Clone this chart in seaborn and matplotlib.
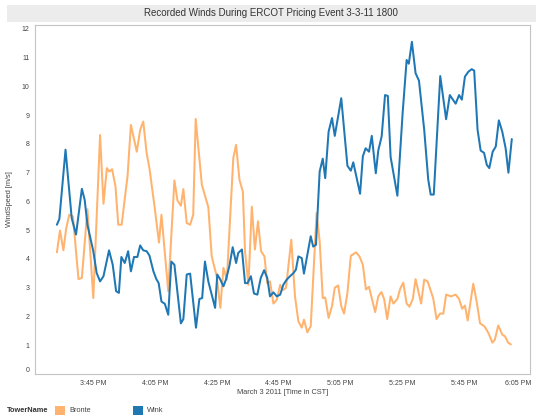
import matplotlib
matplotlib.use('Agg')
import matplotlib.pyplot as plt
import matplotlib.dates as mdates
import matplotlib.transforms as mtransforms
from matplotlib.patches import Rectangle
import pandas as pd
import seaborn as sns

# Minutes after 3:00 PM and recorded wind speed (m/s)
bronte_min = [33.1, 34.1, 35.2, 36.1, 37.1, 38.3, 40.1, 41.2, 43.0, 44.9, 47.1, 48.2, 49.3, 50.1, 51.0,
              52.1, 53.0, 54.1, 55.2, 56.0, 57.1, 59.0, 60.1, 61.1, 62.2, 63.1, 64.9, 66.2, 67.0, 69.2,
              71.2, 72.2, 73.3, 74.1, 75.2, 76.3, 77.3, 78.1, 80.1, 82.2, 83.3, 84.9, 86.1, 87.1, 88.2,
              90.3, 91.2, 92.3, 93.4, 94.1, 95.2, 96.3, 97.3, 98.3, 99.3, 100.4, 101.3, 102.2, 103.3, 104.4,
              105.5, 106.3, 107.4, 109.1, 110.3, 111.4, 112.5, 113.2, 114.3, 115.4, 117.3, 118.3, 119.3, 120.1,
              121.2, 122.3, 123.2, 124.3, 125.3, 126.2, 127.3, 128.4, 130.1, 131.2, 132.3, 133.3, 134.3,
              136.3, 137.3, 138.3, 139.2, 140.2, 141.3, 142.2, 143.5, 144.4, 145.4, 146.5, 147.4, 148.5,
              149.4, 151.2, 152.2, 153.3, 155.1, 156.2, 157.3, 158.4, 159.3, 160.9, 162.4, 163.5, 164.5,
              165.4, 166.3, 168.1, 169.2, 170.3, 171.7, 173.0, 174.3, 175.1, 176.2, 177.5, 178.4, 179.4, 180.3]
bronte_speed = [4.23, 4.99, 4.30, 5.05, 5.54, 5.48, 3.30, 3.34, 5.73, 2.64, 8.31, 5.92, 7.16, 7.04, 7.12,
                6.52, 5.19, 5.19, 6.18, 6.87, 8.66, 7.73, 8.49, 8.78, 7.68, 7.16, 5.71, 4.57, 5.54, 2.88,
                6.73, 6.03, 5.85, 6.43, 5.25, 5.19, 5.54, 8.87, 6.58, 5.80, 4.09, 3.40, 2.30, 3.69, 3.28,
                7.51, 7.97, 6.75, 6.34, 4.27, 3.10, 5.82, 4.33, 5.31, 4.27, 4.09, 3.16, 3.22, 2.45, 2.58,
                3.10, 2.91, 3.00, 4.67, 2.70, 1.83, 1.61, 1.89, 1.45, 1.66, 5.60, 4.61, 2.64, 2.66,
                1.95, 2.36, 3.00, 3.08, 2.36, 2.10, 2.82, 4.11, 4.23, 4.09, 3.80, 2.94, 3.03,
                2.15, 2.70, 2.85, 2.61, 1.91, 2.70, 2.45, 2.61, 2.96, 3.18, 2.45, 2.34, 2.61,
                3.30, 2.45, 3.28, 3.22, 2.64, 1.91, 2.10, 2.10, 2.76, 2.70, 2.76, 2.61, 2.27,
                2.38, 1.86, 3.14, 2.52, 1.76, 1.66, 1.43, 1.09, 1.19, 1.69, 1.37, 1.31, 1.09, 1.03]

wink_min = [33.1, 33.9, 35.9, 37.9, 39.3, 41.2, 42.1, 43.0, 44.9, 46.0, 47.1, 48.2, 50.0, 51.2, 52.3,
            53.2, 54.0, 55.1, 56.2, 57.1, 58.1, 59.2, 60.1, 61.1, 62.2, 63.1, 64.4, 65.3, 66.1, 67.0,
            68.1, 69.2, 70.2, 71.2, 73.3, 74.1, 75.2, 76.3, 78.2, 79.3, 80.2, 81.1, 82.2, 84.4, 85.1,
            86.0, 87.1, 87.9, 89.0, 90.1, 91.2, 91.9, 93.1, 94.1, 94.9, 96.0, 97.0, 98.1, 99.2, 100.3,
            101.3, 102.2, 103.3, 104.4, 105.5, 106.5, 107.6, 108.7, 109.8, 110.6, 111.4, 112.5, 113.2,
            115.4, 116.2, 117.1, 118.3, 119.3, 120.1, 121.2, 122.3, 123.2, 125.3, 127.3, 128.4, 129.2,
            131.4, 132.3, 133.2, 134.3, 135.2, 136.5, 137.3, 138.4, 139.5, 140.4, 141.3, 143.5, 145.2,
            146.5, 147.2, 148.2, 149.4, 150.5, 152.2, 153.5, 154.3, 155.3, 157.4, 159.3, 160.5, 162.4,
            163.5, 164.4, 165.4, 166.5, 167.6, 168.4, 169.5, 170.5, 171.6, 172.5, 173.3, 174.4, 175.4,
            176.4, 177.5, 178.6, 179.5, 180.6]
wink_speed = [5.19, 5.39, 7.80, 5.42, 4.85, 6.44, 6.06, 5.19, 4.27, 3.51, 3.22, 3.40, 4.30, 3.80, 2.88,
              2.82, 4.07, 3.86, 4.27, 3.57, 4.07, 4.07, 4.47, 4.30, 4.27, 4.12, 3.57, 3.31, 3.16, 2.52,
              2.44, 2.06, 3.91, 3.80, 1.76, 1.91, 3.46, 3.49, 1.61, 2.61, 2.64, 3.91, 3.22, 2.30, 3.46,
              3.30, 3.05, 3.28, 3.74, 4.41, 3.86, 4.21, 4.33, 3.16, 3.16, 3.40, 2.80, 2.76, 3.34, 3.61,
              3.34, 2.70, 2.84, 2.70, 2.76, 3.10, 3.28, 3.40, 3.51, 3.63, 4.09, 4.03, 3.49,
              4.79, 4.43, 4.49, 7.04, 7.49, 6.81, 8.43, 8.90, 8.28, 9.59, 7.24, 7.07, 7.36,
              6.27, 7.57, 7.85, 7.73, 8.28, 6.98, 7.77, 8.26, 9.70, 9.67, 7.55, 6.20, 9.07,
              10.92, 10.79, 11.55, 10.46, 10.20, 8.49, 6.76, 6.24, 6.24, 10.36, 8.86, 9.70, 9.40,
              9.70, 9.54, 10.34, 10.51, 10.60, 10.55, 8.49, 7.77, 7.69, 7.27, 7.16, 7.73, 7.91,
              8.82, 8.43, 7.85, 7.00, 8.17]

towers = ['Bronte', 'Wink']
tower_colors = ['#FFB36E', '#1F77B4']
y_ticks = list(range(0, 13))

base = pd.Timestamp('2011-03-03 15:00')
df = pd.concat([
    pd.DataFrame({'time': base + pd.to_timedelta(bronte_min, unit='min'),
                  'WindSpeed': bronte_speed, 'TowerName': 'Bronte'}),
    pd.DataFrame({'time': base + pd.to_timedelta(wink_min, unit='min'),
                  'WindSpeed': wink_speed, 'TowerName': 'Wink'}),
])

sns.set_style('white')
plt.rcParams['font.family'] = ['Liberation Sans', 'DejaVu Sans']

W, H = 536, 418
fig = plt.figure(figsize=(W / 100, H / 100), dpi=100)
ax = fig.add_axes([35 / W, 1 - 374 / H, 495 / W, 349.4 / H])

sns.lineplot(data=df, x='time', y='WindSpeed', hue='TowerName', hue_order=towers,
             palette=tower_colors, linewidth=1.45, legend=False, ax=ax)

# axis limits and ticks
ax.set_xlim(base + pd.Timedelta(minutes=26), base + pd.Timedelta(minutes=186.5))
ax.set_ylim(0, 12.15)
ax.set_yticks(y_ticks)
ax.xaxis.set_major_locator(mdates.MinuteLocator(byminute=[5, 25, 45]))
ax.xaxis.set_minor_locator(mdates.MinuteLocator(interval=1))
ax.xaxis.set_major_formatter(mdates.DateFormatter('%-I:%M %p'))

frame = '#c4c4c4'
for s in ax.spines.values():
    s.set_color(frame)
    s.set_linewidth(0.8)
ax.tick_params(axis='both', which='major', length=2.5, width=0.6, color='#aaaaaa',
               labelsize=5, labelcolor='#444444', pad=1.5)
ax.tick_params(axis='x', which='minor', length=1.2, width=0.5, color='#aaaaaa')
ax.tick_params(axis='x', which='major', length=3)
ax.grid(False)

ax.set_xlabel('March 3 2011 [Time in CST]', fontsize=5.3, color='#444444', labelpad=1.5)
ax.set_ylabel('WindSpeed [m/s]', fontsize=5.3, color='#444444', labelpad=6)

fig.canvas.draw()
xlabels = ax.get_xticklabels()
if xlabels:
    xlabels[-1].set_ha('right')
    xlabels[-1].set_transform(xlabels[-1].get_transform() +
                              mtransforms.ScaledTranslation(4 / 72, 0, fig.dpi_scale_trans))
ylabels = ax.get_yticklabels()
if ylabels:
    ylabels[0].set_transform(ylabels[0].get_transform() +
                             mtransforms.ScaledTranslation(0, 3.5 / 72, fig.dpi_scale_trans))

# title band
fig.patches.append(Rectangle((7 / W, 1 - 22 / H), (W - 7) / W, 17 / H,
                             transform=fig.transFigure, facecolor='#ececec', edgecolor='none'))
fig.text(271 / W, 1 - 13.5 / H, 'Recorded Winds During ERCOT Pricing Event 3-3-11 1800',
         ha='center', va='center', fontsize=7, color='#333333')

# legend strip
fig.text(7 / W, 1 - 410.5 / H, 'TowerName', ha='left', va='center', fontsize=5.3,
         fontweight='bold', color='#333333')
legend_x = [55, 133]
for name, color, lx in zip(towers, tower_colors, legend_x):
    fig.patches.append(Rectangle((lx / W, 1 - 415 / H), 10 / W, 9.5 / H,
                                 transform=fig.transFigure, facecolor=color, edgecolor='none'))
    fig.text((lx + 14) / W, 1 - 410.5 / H, name, ha='left', va='center', fontsize=5.3,
             color='#444444')

fig.savefig('out.png', dpi=100)
